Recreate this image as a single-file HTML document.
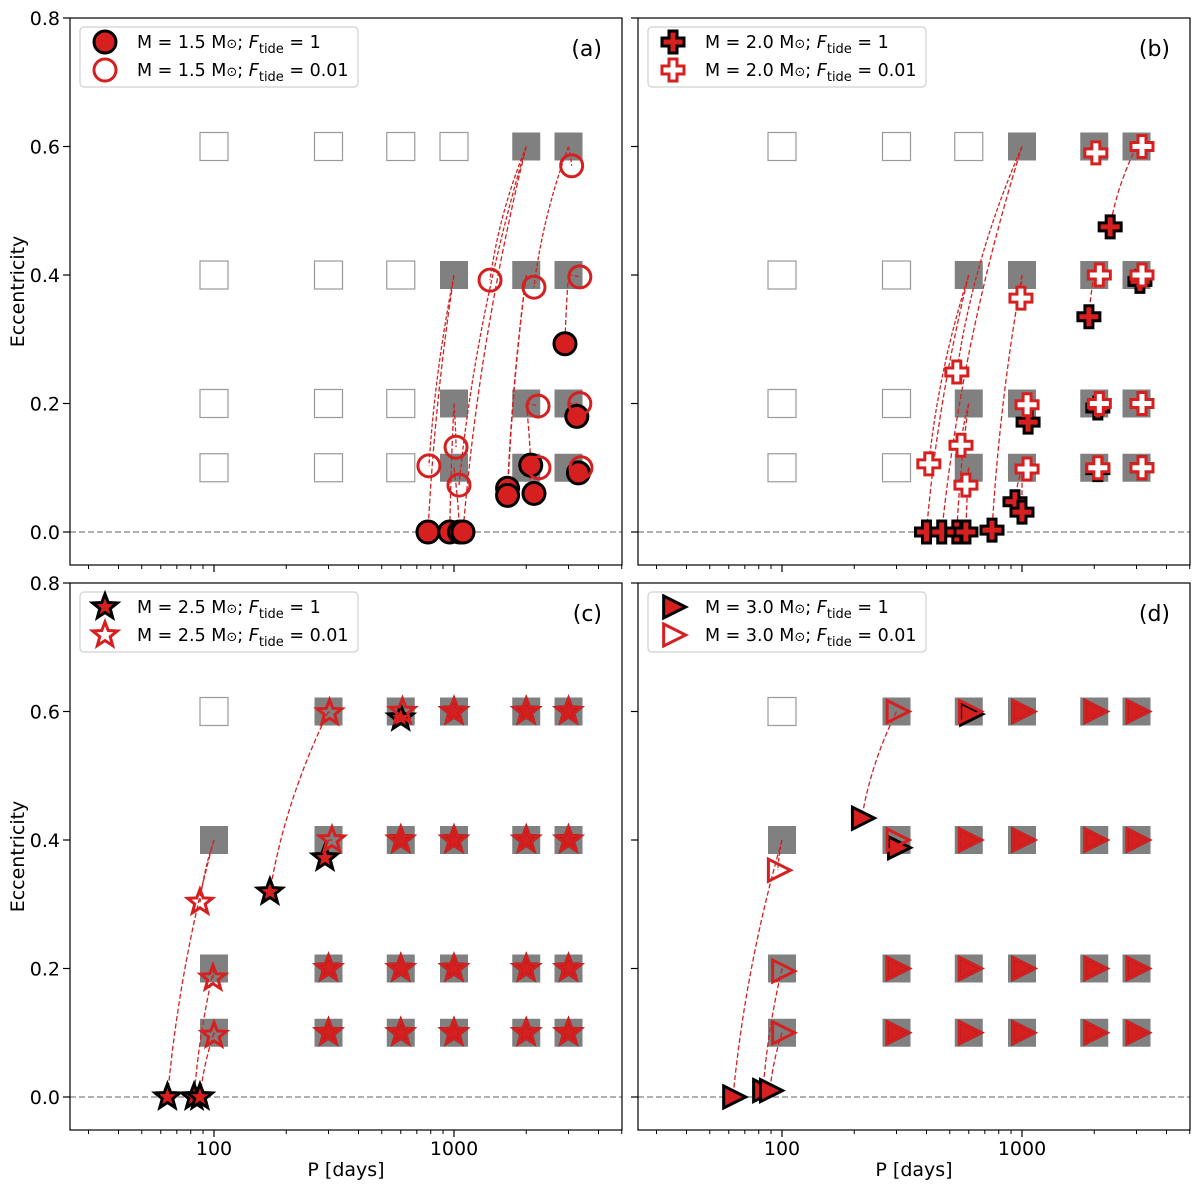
<!DOCTYPE html>
<html><head><meta charset="utf-8"><style>
html,body{margin:0;padding:0;background:#fff;}
svg{display:block;font-family:"DejaVu Sans","Liberation Sans",sans-serif;}
</style></head><body>
<svg id="chart" width="1200" height="1192" viewBox="0 0 1200 1192" xmlns="http://www.w3.org/2000/svg"></svg>
<script>
// ---- data ----
const gridP = [100, 300, 600, 1000, 2000, 3000];
const gridE = [0.1, 0.2, 0.4, 0.6];
const yTicks = [0.0, 0.2, 0.4, 0.6, 0.8];
const yTickLabels = ["0.0", "0.2", "0.4", "0.6", "0.8"];
const xMajor = [100, 1000];
const xMajorLabels = ["100", "1000"];
const xMinor = [30,40,50,60,70,80,90,200,300,400,500,600,700,800,900,2000,3000,4000,5000];

// filled squares (grid points "filled"): per panel list of [P,e]
const aFilled = [[2000,0.6],[3000,0.6],[1000,0.4],[2000,0.4],[3000,0.4],[1000,0.2],[2000,0.2],[3000,0.2],[1000,0.1],[2000,0.1],[3000,0.1]];
const bFilled = [[1000,0.6],[2000,0.6],[3000,0.6],[600,0.4],[1000,0.4],[2000,0.4],[3000,0.4],[600,0.2],[1000,0.2],[2000,0.2],[3000,0.2],[600,0.1],[1000,0.1],[2000,0.1],[3000,0.1]];
const cFilled = [[300,0.6],[600,0.6],[1000,0.6],[2000,0.6],[3000,0.6],[100,0.4],[300,0.4],[600,0.4],[1000,0.4],[2000,0.4],[3000,0.4],[100,0.2],[300,0.2],[600,0.2],[1000,0.2],[2000,0.2],[3000,0.2],[100,0.1],[300,0.1],[600,0.1],[1000,0.1],[2000,0.1],[3000,0.1]];
const dFilled = cFilled;

// tracks: start P, start e, final P, final e, tide (1 = Ftide 1 filled, 0 = Ftide 0.01 open)
const aStartP = [1000,1000,2000,2000,3000,3000,3000,2000,3000,2000,3000, 1000,1000,1000,2000,3000,2000,3000,2000,3000,2000,2000];
const aStartE = [0.4,0.2,0.6,0.6,0.6,0.6,0.4,0.2,0.2,0.1,0.1, 0.4,0.2,0.1,0.6,0.4,0.2,0.2,0.1,0.1,0.4,0.4];
const aFinalP = [786,1020,1049,1413,2154,3092,3344,2240,3344,2260,3380, 779,960,1055,1090,2900,2088,3250,2154,3300,1672,1672];
const aFinalE = [0.103,0.132,0.073,0.392,0.381,0.57,0.397,0.196,0.2,0.1,0.1, 0,0,0,0,0.293,0.104,0.18,0.06,0.092,0.068,0.057];
const aTide   = [0,0,0,0,0,0,0,0,0,0,0, 1,1,1,1,1,1,1,1,1,1,1];

const bStartP = [2000,3000,2000,3000,1000,1000,1000,2000,3000,600,600,1000,600,2000,3000, 3000,1000,2000,3000,1000,1000,2000,3000,600,1000,600,600,1000,3000,2000];
const bStartE = [0.6,0.6,0.4,0.4,0.4,0.6,0.2,0.2,0.2,0.2,0.4,0.1,0.1,0.1,0.1, 0.4,0.2,0.2,0.2,0.1,0.1,0.1,0.1,0.4,0.6,0.2,0.1,0.4,0.6,0.4];
const bFinalP = [2031,3162,2100,3162,990,535,1050,2100,3162,557,409,1050,584,2070,3162, 3100,1060,2070,3162,935,1000,2070,3162,400,463,535,584,750,2330,1900];
const bFinalE = [0.59,0.6,0.4,0.4,0.364,0.249,0.198,0.2,0.2,0.135,0.106,0.098,0.073,0.1,0.1, 0.39,0.171,0.193,0.2,0.047,0.031,0.097,0.1,0,0,0,0,0.003,0.475,0.335];
const bTide   = [0,0,0,0,0,0,0,0,0,0,0,0,0,0,0, 1,1,1,1,1,1,1,1,1,1,1,1,1,1,1];

const cStartP = [100,100,100,300,300,600,300,300,600,600,600,1000,1000,1000,1000,2000,2000,2000,2000,3000,3000,3000,3000, 100,100,100,300,300,600,300,300,600,600,600,1000,1000,1000,1000,2000,2000,2000,2000,3000,3000,3000,3000];
const cStartE = [0.4,0.2,0.1,0.6,0.4,0.6,0.2,0.1,0.4,0.2,0.1,0.6,0.4,0.2,0.1,0.6,0.4,0.2,0.1,0.6,0.4,0.2,0.1, 0.4,0.2,0.1,0.6,0.4,0.6,0.2,0.1,0.4,0.2,0.1,0.6,0.4,0.2,0.1,0.6,0.4,0.2,0.1,0.6,0.4,0.2,0.1];
const cFinalP = [87.4,99,100,303,310,610,300,300,600,600,600,1000,1000,1000,1000,2000,2000,2000,2000,3000,3000,3000,3000, 64,82.6,87.4,171,290,600,300,300,600,600,600,1000,1000,1000,1000,2000,2000,2000,2000,3000,3000,3000,3000];
const cFinalE = [0.303,0.185,0.096,0.598,0.4,0.6,0.2,0.1,0.4,0.2,0.1,0.6,0.4,0.2,0.1,0.6,0.4,0.2,0.1,0.6,0.4,0.2,0.1, 0,0,0,0.319,0.372,0.59,0.2,0.1,0.4,0.2,0.1,0.6,0.4,0.2,0.1,0.6,0.4,0.2,0.1,0.6,0.4,0.2,0.1];
const cTide   = [0,0,0,0,0,0,0,0,0,0,0,0,0,0,0,0,0,0,0,0,0,0,0, 1,1,1,1,1,1,1,1,1,1,1,1,1,1,1,1,1,1,1,1,1,1,1];

const dStartP = [300,300,100,100,100,300,300,600,600,600,600,1000,1000,1000,1000,2000,2000,2000,2000,3000,3000,3000,3000, 300,300,600,100,100,100,300,300,600,600,600,1000,1000,1000,1000,2000,2000,2000,2000,3000,3000,3000,3000];
const dStartE = [0.6,0.4,0.4,0.2,0.1,0.2,0.1,0.6,0.4,0.2,0.1,0.6,0.4,0.2,0.1,0.6,0.4,0.2,0.1,0.6,0.4,0.2,0.1, 0.6,0.4,0.6,0.4,0.2,0.1,0.2,0.1,0.4,0.2,0.1,0.6,0.4,0.2,0.1,0.6,0.4,0.2,0.1,0.6,0.4,0.2,0.1];
const dFinalP = [300,300,96,100,100,300,300,600,600,600,600,1000,1000,1000,1000,2000,2000,2000,2000,3000,3000,3000,3000, 215,304,607,62.5,83.3,89,300,300,600,600,600,1000,1000,1000,1000,2000,2000,2000,2000,3000,3000,3000,3000];
const dFinalE = [0.6,0.4,0.353,0.196,0.1,0.2,0.1,0.6,0.4,0.2,0.1,0.6,0.4,0.2,0.1,0.6,0.4,0.2,0.1,0.6,0.4,0.2,0.1, 0.434,0.388,0.596,0,0.01,0.01,0.2,0.1,0.4,0.2,0.1,0.6,0.4,0.2,0.1,0.6,0.4,0.2,0.1,0.6,0.4,0.2,0.1];
const dTide   = [0,0,0,0,0,0,0,0,0,0,0,0,0,0,0,0,0,0,0,0,0,0,0, 1,1,1,1,1,1,1,1,1,1,1,1,1,1,1,1,1,1,1,1,1,1,1];

const panelMass = ["1.5","2.0","2.5","3.0"];
const panelLetters = ["(a)","(b)","(c)","(d)"];

// ---- rendering ----
const NS = "http://www.w3.org/2000/svg";
const svg = document.getElementById("chart");
function mk(tag, attrs, parent){
  const e = document.createElementNS(NS, tag);
  for (const k in attrs) e.setAttribute(k, attrs[k]);
  (parent||svg).appendChild(e);
  return e;
}
const RED = "#d62020";

const panels = [
  {left:70, top:18, right:622, bottom:565, marker:"circle", filled:aFilled, sp:aStartP, se:aStartE, fp:aFinalP, fe:aFinalE, tide:aTide, ylab:true, xlab:false},
  {left:638, top:18, right:1190, bottom:565, marker:"cross", filled:bFilled, sp:bStartP, se:bStartE, fp:bFinalP, fe:bFinalE, tide:bTide, ylab:false, xlab:false},
  {left:70, top:583, right:622, bottom:1130, marker:"star", filled:cFilled, sp:cStartP, se:cStartE, fp:cFinalP, fe:cFinalE, tide:cTide, ylab:true, xlab:true},
  {left:638, top:583, right:1190, bottom:1130, marker:"tri", filled:dFilled, sp:dStartP, se:dStartE, fp:dFinalP, fe:dFinalE, tide:dTide, ylab:false, xlab:true}
];

function markerPath(type, x, y, s){
  if (type === "cross"){
    const a = 11*s, b = 4*s;
    return `M${x-b},${y-a}H${x+b}V${y-b}H${x+a}V${y+b}H${x+b}V${y+a}H${x-b}V${y+b}H${x-a}V${y-b}H${x-b}Z`;
  }
  if (type === "star"){
    let d = "";
    for (let i=0;i<10;i++){
      const r = (i%2===0?13:5.5)*s;
      const ang = -Math.PI/2 + i*Math.PI/5;
      d += (i===0?"M":"L") + (x + r*Math.cos(ang)).toFixed(2) + "," + (y + r*Math.sin(ang)).toFixed(2);
    }
    return d + "Z";
  }
  if (type === "tri"){
    const h = 11*s;
    return `M${x-h*0.85},${y-h}L${x+h*1.15},${y}L${x-h*0.85},${y+h}Z`;
  }
  return null;
}
function drawMarker(g, type, x, y, filled, s, name){
  s = s || 1;
  let el;
  const fill = filled ? RED : (type === "cross" ? "#fff" : "none");
  const stroke = filled ? "#000" : RED;
  const sw = 3*s;
  if (type === "circle"){
    el = mk("circle", {cx:x, cy:y, r:11*s, fill:fill, stroke:stroke, "stroke-width":sw}, g);
  } else {
    el = mk("path", {d:markerPath(type,x,y,s), fill:fill, stroke:stroke, "stroke-width":sw, "stroke-linejoin":"miter"}, g);
  }
  
  
  return el;
}

panels.forEach((p, pi) => {
  const g = mk("g", {});
  
  
  const X = P => p.left + (Math.log10(P) - 1.4) * 240;
  const Y = e => p.top + (0.8 - e) * 642.5;

  gridP.forEach(P => gridE.forEach(e => {
    const isF = p.filled.some(q => q[0]===P && q[1]===e);
    const r = mk("rect", {x:X(P)-14, y:Y(e)-14, width:28, height:28,
      fill: isF ? "#808080" : "#fff", stroke: isF ? "none" : "#9a9a9a", "stroke-width":1.2}, g);
    
    
  }));

  const zl = mk("line", {x1:p.left, x2:p.right, y1:Y(0), y2:Y(0), stroke:"#808080", "stroke-width":1.2, "stroke-dasharray":"6,3"}, g);
  
  

  for (let i=0;i<p.sp.length;i++){
    const x0 = X(p.sp[i]), y0 = Y(p.se[i]), x1 = X(p.fp[i]), y1 = Y(p.fe[i]);
    if (Math.abs(x0-x1)<0.5 && Math.abs(y0-y1)<0.5) continue;
    const cx = x1 + (x0-x1)*0.25, cy = (y0+y1)/2;
    const tr = mk("path", {d:`M${x0},${y0}Q${cx},${cy} ${x1},${y1}`, fill:"none", stroke:RED, "stroke-width":1.3, "stroke-dasharray": p.tide[i] ? "5,2.5" : "4,2"}, g);
    
    
  }
  for (let i=0;i<p.sp.length;i++) if (p.tide[i]===1)
    drawMarker(g, p.marker, X(p.fp[i]), Y(p.fe[i]), true, 1, 'final-marker-ftide-1');
  for (let i=0;i<p.sp.length;i++) if (p.tide[i]===0)
    drawMarker(g, p.marker, X(p.fp[i]), Y(p.fe[i]), false, 1, 'final-marker-ftide-0.01');

  const fr = mk("rect", {x:p.left, y:p.top, width:p.right-p.left, height:p.bottom-p.top, fill:"none", stroke:"#000", "stroke-width":1.2}, g);
  
  

  yTicks.forEach((t, i) => {
    mk("line", {x1:p.left-7, x2:p.left, y1:Y(t), y2:Y(t), stroke:"#000", "stroke-width":1.2}, g);
    if (p.ylab){
      const tx = mk("text", {x:p.left-10, y:Y(t)+7, "text-anchor":"end", "font-size":19, fill:"#000"}, g);
      tx.textContent = yTickLabels[i];
      
      
    }
  });
  xMajor.forEach((t, i) => {
    mk("line", {x1:X(t), x2:X(t), y1:p.bottom, y2:p.bottom+7, stroke:"#000", "stroke-width":1.2}, g);
    if (p.xlab){
      const tx = mk("text", {x:X(t), y:p.bottom+25, "text-anchor":"middle", "font-size":19, fill:"#000"}, g);
      tx.textContent = xMajorLabels[i];
      
      
    }
  });
  xMinor.forEach(t => {
    const x = X(t);
    if (x > p.right + 0.5) return;
    mk("line", {x1:x, x2:x, y1:p.bottom, y2:p.bottom+4, stroke:"#000", "stroke-width":1}, g);
  });

  if (p.ylab){
    const yl = mk("text", {x:0, y:0, transform:`translate(24,${(p.top+p.bottom)/2}) rotate(-90)`, "text-anchor":"middle", "font-size":19, fill:"#000"}, g);
    yl.textContent = "Eccentricity";
    
    
  }
  if (p.xlab){
    const xl = mk("text", {x:(p.left+p.right)/2, y:1176, "text-anchor":"middle", "font-size":19, fill:"#000"}, g);
    xl.textContent = "P [days]";
    
    
  }
  const pl = mk("text", {x:p.right-20, y:p.top+38, "text-anchor":"end", "font-size":22, fill:"#000"}, g);
  pl.textContent = panelLetters[pi];
  
  

  const lg = mk("g", {}, g);
  
  
  const lx = p.left + 10, ly = p.top + 9;
  mk("rect", {x:lx, y:ly, width:278, height:60, rx:4, fill:"#fff", "fill-opacity":0.85, stroke:"#d0d0d0", "stroke-width":1.2}, lg);
  [1, 0].forEach((tide, k) => {
    const cy = ly + 15 + k*28;
    const ent = mk("g", {}, lg);
    
    
    drawMarker(ent, p.marker, lx + 25, cy, tide===1, 1, tide===1 ? 'legend-marker-filled' : 'legend-marker-open');
    const t = mk("text", {x:lx+57, y:cy+6, "font-size":17.5, fill:"#000"}, ent);
    t.innerHTML = `M = ${panelMass[pi]} M<tspan font-size="13">⊙</tspan>;  <tspan font-style="italic">F</tspan><tspan font-size="13" dy="5">tide</tspan><tspan dy="-5"> = ${tide===1 ? "1" : "0.01"}</tspan>`;
  });
});
</script>
</body></html>
